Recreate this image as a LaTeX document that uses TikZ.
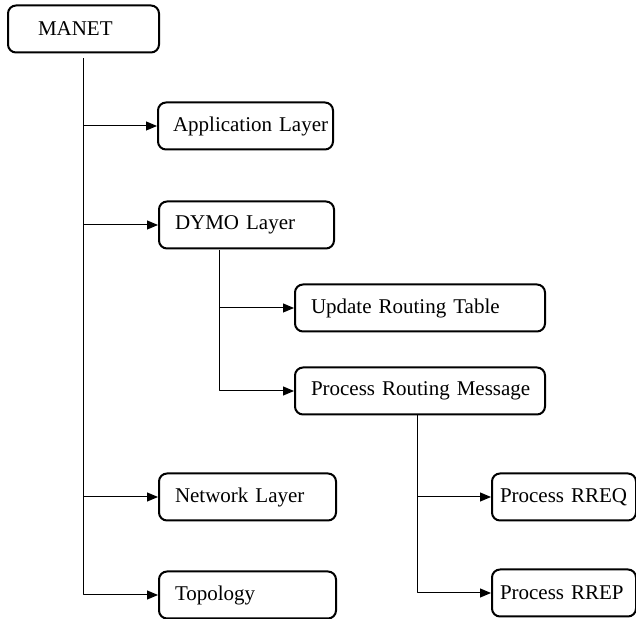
\documentclass[tikz,border=0pt]{standalone}
\usepackage{fontspec}
\setmainfont{Liberation Serif}
\usetikzlibrary{arrows.meta}

\tikzset{
  module/.style={draw, line width=2bp, rounded corners=8bp, anchor=west,
    minimum height=47bp, inner xsep=4bp, inner ysep=0pt, align=left,
    font=\fontsize{21bp}{24bp}\selectfont,
    execute at begin node={\hspace*{#1}}},
  module/.default=12bp,
  link/.style={->, line width=1bp},
}

\begin{document}
\begin{tikzpicture}[>={Triangle[length=11bp,width=9bp]},line join=bevel]
  \useasboundingbox (0bp,0bp) rectangle (636bp,619bp);
  % Node: manet
  \node[module=26bp, text width=143bp] (manet) at (7bp,590bp) {MANET};
  % Node: app
  \node[module=11bp, text width=167bp] (app) at (157bp,493bp) {Application Layer};
  % Node: dymo
  \node[module, text width=167bp] (dymo) at (158bp,394bp) {DYMO Layer};
  % Node: urt
  \node[module, text width=242bp] (urt) at (294bp,311bp) {Update Routing Table};
  % Node: prm
  \node[module, text width=242bp] (prm) at (294bp,228bp) {Process Routing Message};
  % Node: net
  \node[module, text width=169bp] (net) at (158bp,122bp) {Network Layer};
  % Node: topo
  \node[module, text width=169bp] (topo) at (158bp,24bp) {Topology};
  % Node: rreq
  \node[module=4bp, text width=136bp] (rreq) at (491bp,122bp) {Process RREQ};
  % Node: rrep
  \node[module=4bp, text width=136bp] (rrep) at (491bp,26bp) {Process RREP};
%%
  \coordinate (trunk) at ([yshift=-5bp]manet.south);
  \coordinate (dymo_br) at (219bp,369bp);
  \coordinate (prm_br) at ([xshift=-3bp]prm.south);
  % Edge: manet -> app, dymo, net, topo
  \draw[link] (trunk) |- (topo.west);
  \draw[link] (app.west -| trunk) -- (app.west);
  \draw[link] (dymo.west -| trunk) -- (dymo.west);
  \draw[link] (net.west -| trunk) -- (net.west);
  % Edge: dymo -> urt, prm
  \draw[link] (dymo_br) |- (prm.west);
  \draw[link] (urt.west -| dymo_br) -- (urt.west);
  % Edge: prm -> rreq, rrep
  \draw[link] (prm_br) |- (rrep.west);
  \draw[link] (rreq.west -| prm_br) -- (rreq.west);
%
\end{tikzpicture}
\end{document}
